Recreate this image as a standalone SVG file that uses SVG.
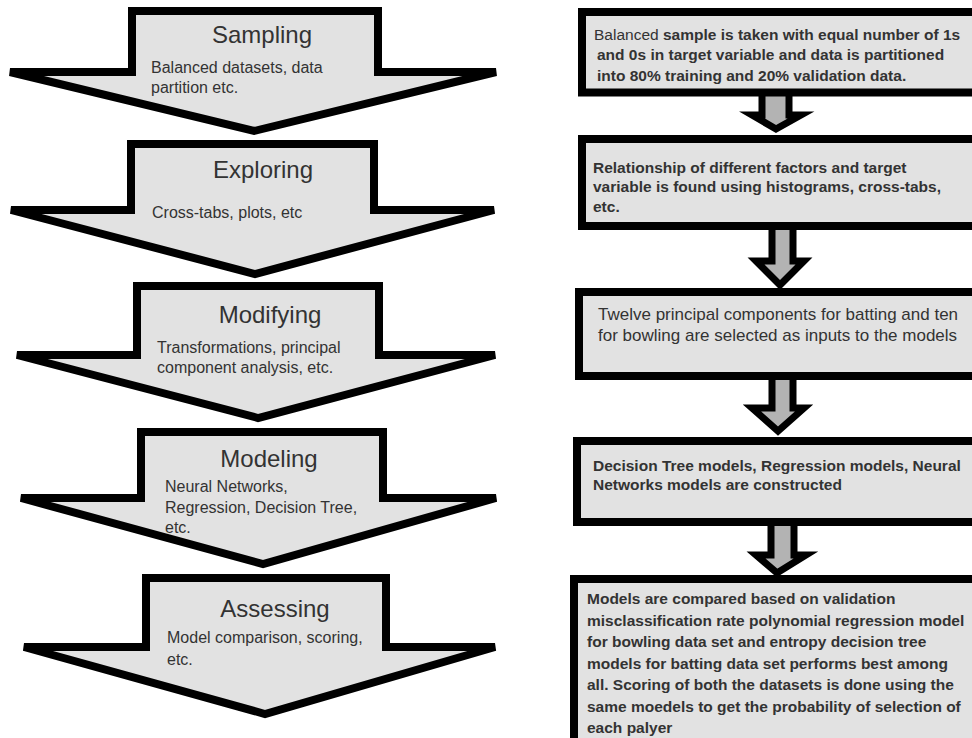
<svg xmlns="http://www.w3.org/2000/svg" width="972" height="738" viewBox="0 0 972 738">
<style>
.big{fill:#e2e2e2;stroke:#000;stroke-width:8;stroke-linejoin:miter}
.box{fill:#e2e2e2;stroke:#000;stroke-width:8}
.sa{fill:#b3b3b3;stroke:#000;stroke-width:7;stroke-linejoin:miter}
.t{font-family:"Liberation Sans",Arial,sans-serif;font-size:24px;fill:#333;text-anchor:middle}
.s{font-family:"Liberation Sans",Arial,sans-serif;font-size:16px;fill:#333}
.b{font-family:"Liberation Sans",Arial,sans-serif;font-size:15.5px;font-weight:bold;fill:#333}
.r{font-family:"Liberation Sans",Arial,sans-serif;font-size:15.5px;fill:#333}
.r17{font-family:"Liberation Sans",Arial,sans-serif;font-size:17px;fill:#333}
</style>
<rect width="972" height="738" fill="#fff"/>
<g id="sampling">
<path class="big" d="M132,11 H378 V72 H496 L254,131 L10,72 H132 Z"/>
<text class="t" x="262" y="43">Sampling</text>
<text class="s" x="151" y="73">Balanced datasets, data</text>
<text class="s" x="151" y="93">partition etc.</text>
</g>
<g id="exploring">
<path class="big" d="M131,144 H374 V210 H494 L255,274 L11,210 H131 Z"/>
<text class="t" x="263" y="178">Exploring</text>
<text class="s" x="152" y="218">Cross-tabs, plots, etc</text>
</g>
<g id="modifying">
<path class="big" d="M137,286 H379 V355 H495 L258,418 L17,355 H137 Z"/>
<text class="t" x="270" y="323">Modifying</text>
<text class="s" x="157" y="353">Transformations, principal</text>
<text class="s" x="157" y="373">component analysis, etc.</text>
</g>
<g id="modeling">
<path class="big" d="M141,432 H383 V498 H496 L263,564 L21,498 H141 Z"/>
<text class="t" x="269" y="467">Modeling</text>
<text class="s" x="165" y="492">Neural Networks,</text>
<text class="s" x="165" y="513">Regression, Decision Tree,</text>
<text class="s" x="165" y="533">etc.</text>
</g>
<g id="assessing">
<path class="big" d="M146,578 H386 V647 H495 L265,714 L24,647 H146 Z"/>
<text class="t" x="275" y="617">Assessing</text>
<text class="s" x="167" y="643">Model comparison, scoring,</text>
<text class="s" x="167" y="665">etc.</text>
</g>
<g id="connectors">
<path class="sa" d="M762,92 H789 V115 H801 L776,129 L752,115 H762 Z"/>
<path class="sa" d="M772,226 H793 V261 H804 L780,285 L756,261 H772 Z"/>
<path class="sa" d="M772,376 H793 V408 H804 L778,431 L752,408 H772 Z"/>
<path class="sa" d="M771,522 H794 V555 H806 L777,573 L756,555 H771 Z"/>
</g>
<g id="step1">
<rect class="box" x="582" y="12" width="410" height="80.5"/>
<text class="b" x="594" y="40"><tspan class="r" font-weight="normal">Balanced </tspan>sample is taken with equal number of 1s</text>
<text class="b" x="597" y="60">and 0s in target variable and data is partitioned</text>
<text class="b" x="597" y="81">into 80% training and 20% validation data.</text>
</g>
<g id="step2">
<rect class="box" x="582" y="139" width="410" height="87"/>
<text class="b" x="593" y="173">Relationship of different factors and target</text>
<text class="b" x="593" y="192">variable is found using histograms, cross-tabs,</text>
<text class="b" x="593" y="212">etc.</text>
</g>
<g id="step3">
<rect class="box" x="579" y="292" width="410" height="84"/>
<text class="r17" x="598" y="320">Twelve principal components for batting and ten</text>
<text class="r17" x="598" y="341">for bowling are selected as inputs to the models</text>
</g>
<g id="step4">
<rect class="box" x="577" y="441" width="410" height="81"/>
<text class="b" x="593" y="471">Decision Tree models, Regression models, Neural</text>
<text class="b" x="593" y="490">Networks models are constructed</text>
</g>
<g id="step5">
<rect class="box" x="574" y="579" width="410" height="180"/>
<text class="b" x="587" y="604">Models are compared based on validation</text>
<text class="b" x="587" y="625.5">misclassification rate polynomial regression model</text>
<text class="b" x="587" y="647">for bowling data set and entropy decision tree</text>
<text class="b" x="587" y="668.5">models for batting data set performs best among</text>
<text class="b" x="587" y="690">all. Scoring of both the datasets is done using the</text>
<text class="b" x="587" y="711.5">same moedels to get the probability of selection of</text>
<text class="b" x="587" y="733">each palyer</text>
</g>
</svg>
